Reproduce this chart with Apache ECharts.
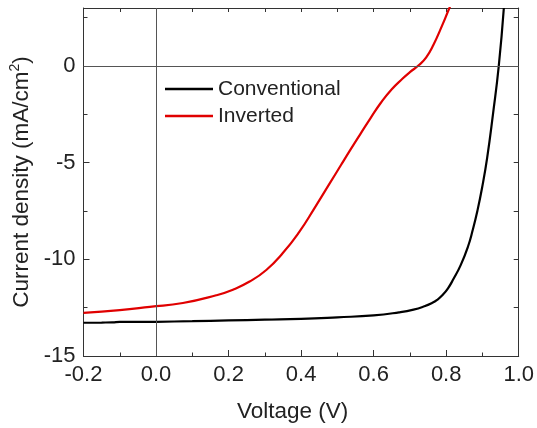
<!DOCTYPE html>
<html>
<head>
<meta charset="utf-8">
<script src="https://cdn.jsdelivr.net/npm/echarts@6/dist/echarts.min.js"></script>
<style>
html,body{margin:0;padding:0;background:#fff;}
#chart{width:537px;height:428px;}
</style>
</head>
<body>
<div id="chart"></div>
<script>
// Conventional device J-V curve
var convV = [-0.2, -0.15, -0.12, -0.1, -0.05, 0.0, 0.1, 0.2, 0.3, 0.4, 0.5, 0.6, 0.67, 0.71, 0.74, 0.76, 0.775, 0.79, 0.805, 0.82, 0.84, 0.86, 0.873, 0.886, 0.899, 0.913, 0.929, 0.945, 0.959];
var convJ = [-13.28, -13.27, -13.26, -13.23, -13.24, -13.23, -13.2, -13.16, -13.12, -13.08, -13.0, -12.9, -12.74, -12.6, -12.43, -12.27, -12.1, -11.85, -11.5, -11.02, -10.3, -9.35, -8.5, -7.5, -6.3, -4.75, -2.5, 0.0, 3.0];
// Inverted device J-V curve
var invV = [-0.2, -0.1, -0.017, 0.074, 0.166, 0.212, 0.258, 0.304, 0.349, 0.395, 0.437, 0.478, 0.51, 0.537, 0.565, 0.592, 0.62, 0.65, 0.68, 0.7, 0.725, 0.745, 0.765, 0.789, 0.808, 0.815];
var invJ = [-12.77, -12.63, -12.46, -12.26, -11.86, -11.57, -11.15, -10.55, -9.69, -8.58, -7.35, -6.1, -5.12, -4.3, -3.47, -2.68, -1.9, -1.2, -0.65, -0.32, 0.05, 0.45, 1.1, 2.1, 2.96, 3.25];
var seriesNames = ['Conventional', 'Inverted'];
var xLabelName = 'Voltage (V)';
var yLabelName = '{a|Current density (mA/cm}{s|2}{a|)}';

function pairs(xs, ys) { return xs.map(function (x, i) { return [x, ys[i]]; }); }

var FONT = 'Liberation Sans, Arial, sans-serif';
var TXT = '#222';
var AX = '#333';

var chart = echarts.init(document.getElementById('chart'), null, {renderer: 'canvas'});
chart.setOption({
  animation: false,
  textStyle: {fontFamily: FONT},
  grid: {left: 83.5, right: 17, top: 8, bottom: 71},
  legend: {
    data: seriesNames,
    orient: 'vertical',
    left: 165, top: 78.5, padding: 0,
    icon: 'rect', itemWidth: 48, itemHeight: 2.5, itemGap: 6,
    selectedMode: false,
    textStyle: {fontSize: 21, color: TXT, fontFamily: FONT}
  },
  xAxis: [{
    type: 'value', min: -0.2, max: 1.0, interval: 0.2, position: 'bottom',
    name: xLabelName, nameLocation: 'middle', nameGap: 44,
    nameTextStyle: {fontSize: 22.5, color: TXT, fontFamily: FONT, padding: [0, 17, 0, 0]},
    axisLine: {show: true, onZero: false, lineStyle: {color: AX, width: 1}},
    axisTick: {show: true, inside: true, length: 6, lineStyle: {color: AX}},
    minorTick: {show: true, splitNumber: 2, length: 3.5, lineStyle: {color: AX}},
    axisLabel: {fontSize: 22, color: TXT, fontFamily: FONT, margin: 8,
      formatter: function (v) { return (Math.round(v * 10) / 10).toFixed(1); }},
    splitLine: {show: false}
  }, {
    type: 'value', min: -0.2, max: 1.0, interval: 0.1, position: 'top',
    axisLine: {show: true, onZero: false, lineStyle: {color: AX, width: 1}},
    axisTick: {show: true, inside: true, length: 4, lineStyle: {color: AX}},
    axisLabel: {show: false}, splitLine: {show: false}
  }],
  yAxis: [{
    type: 'value', min: -15, max: 3, interval: 5, position: 'left',
    name: yLabelName, nameLocation: 'middle', nameGap: 41, nameRotate: 90,
    nameTextStyle: {fontSize: 22.5, color: TXT, fontFamily: FONT,
      rich: {
        a: {fontSize: 22.5, color: TXT, fontFamily: FONT, lineHeight: 26},
        s: {fontSize: 14, color: TXT, fontFamily: FONT, verticalAlign: 'top', lineHeight: 14}
      }},
    axisLine: {show: true, onZero: false, lineStyle: {color: AX, width: 1}},
    axisTick: {show: true, inside: true, length: 6, lineStyle: {color: AX}},
    axisLabel: {fontSize: 22, color: TXT, fontFamily: FONT, margin: 8,
      formatter: function (v) { return (v <= 0 && Math.abs(v % 5) < 1e-9) ? String(v) : ''; }},
    splitLine: {show: false}
  }, {
    type: 'value', min: -15, max: 3, interval: 2.5, position: 'left',
    axisLine: {show: false, onZero: false},
    axisTick: {show: true, inside: true, length: 4, lineStyle: {color: AX}},
    axisLabel: {show: false}, splitLine: {show: false}
  }, {
    type: 'value', min: -15, max: 3, interval: 2.5, position: 'right',
    axisLine: {show: true, onZero: false, lineStyle: {color: AX, width: 1}},
    axisTick: {show: true, inside: true, length: 5, lineStyle: {color: AX}},
    axisLabel: {show: false}, splitLine: {show: false}
  }],
  series: [{
    type: 'line', name: 'zero', data: [], xAxisIndex: 0, yAxisIndex: 0, z: 1,
    markLine: {
      silent: true, symbol: ['none', 'none'], animation: false,
      label: {show: false},
      lineStyle: {color: '#555', width: 1, type: 'solid'},
      data: [{yAxis: 0}, {xAxis: 0}]
    }
  }, {
    type: 'line', name: seriesNames[0], data: pairs(convV, convJ),
    xAxisIndex: 0, yAxisIndex: 0, z: 3,
    symbol: 'none', showSymbol: false, smooth: 0.5,
    color: '#000', lineStyle: {color: '#000', width: 2.2}
  }, {
    type: 'line', name: seriesNames[1], data: pairs(invV, invJ),
    xAxisIndex: 0, yAxisIndex: 0, z: 2,
    symbol: 'none', showSymbol: false, smooth: 0.5,
    color: '#e00000', lineStyle: {color: '#e00000', width: 2.2}
  }]
});
</script>
</body>
</html>
